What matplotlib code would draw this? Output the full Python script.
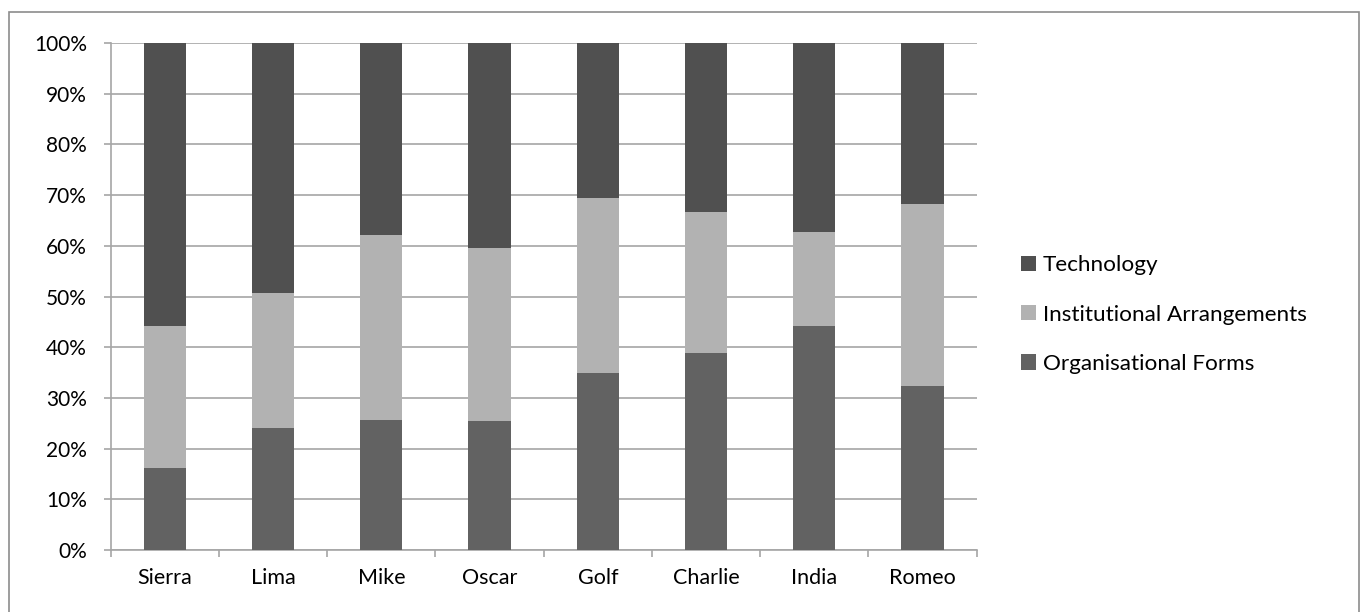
import numpy as np
import matplotlib.pyplot as plt
from matplotlib.patches import Rectangle
from matplotlib.ticker import PercentFormatter

# Share of each factor per case (percent)
cases = ['Sierra', 'Lima', 'Mike', 'Oscar', 'Golf', 'Charlie', 'India', 'Romeo']
organisational = [16.1, 24.1, 25.7, 25.4, 34.9, 38.9, 44.1, 32.3]
institutional = [28.0, 26.5, 36.4, 34.2, 34.5, 27.8, 18.7, 35.9]
technology = [55.9, 49.4, 37.9, 40.4, 30.6, 33.3, 37.2, 31.8]

plt.rcParams['font.family'] = ['Lato', 'DejaVu Sans']

fig = plt.figure(figsize=(13.62, 6.12), dpi=100)
ax = fig.add_axes([0.0813, 0.1013, 0.6358, 0.8284])

# outer frame around the whole chart area
fig.patches.append(Rectangle((9 / 1362, -0.1), 1350 / 1362, 1 - 12 / 612 + 0.1,
                             transform=fig.transFigure, fill=False,
                             edgecolor='#8c8c8c', linewidth=1.2))

x = np.arange(len(cases))
w = 0.39
org = np.array(organisational)
inst = np.array(institutional)
tech = np.array(technology)

ax.bar(x, org, w, color='#626262', label='Organisational Forms', zorder=3)
ax.bar(x, inst, w, bottom=org, color='#b2b2b2', label='Institutional Arrangements', zorder=3)
ax.bar(x, tech, w, bottom=org + inst, color='#505050', label='Technology', zorder=3)

ax.set_xlim(-0.5, len(cases) - 0.5)
ax.set_ylim(0, 100)
ax.set_yticks(np.arange(0, 101, 10))
ax.yaxis.set_major_formatter(PercentFormatter(decimals=0))
ax.set_xticks(x)
ax.set_xticklabels(cases)
ax.set_xticks(np.arange(-0.5, len(cases), 1), minor=True)

ax.grid(axis='y', color='#a6a6a6', linewidth=1.2, zorder=0)
for s in ['top', 'right']:
    ax.spines[s].set_visible(False)
for s in ['left', 'bottom']:
    ax.spines[s].set_color('#a6a6a6')
    ax.spines[s].set_linewidth(1.2)

ax.tick_params(axis='x', which='major', length=0, pad=13, labelsize=15.5)
ax.tick_params(axis='x', which='minor', length=5, color='#a6a6a6', width=1.2)
ax.tick_params(axis='y', length=5, color='#a6a6a6', width=1.2, pad=12, labelsize=15)

handles, labels = ax.get_legend_handles_labels()
fig.legend(handles[::-1], labels[::-1], loc='center left',
           bbox_to_anchor=(0.7347, 0.486), frameon=False, fontsize=16.2,
           handlelength=0.68, handleheight=0.68, handletextpad=0.3,
           labelspacing=1.3)

fig.savefig('out.png', dpi=100)
